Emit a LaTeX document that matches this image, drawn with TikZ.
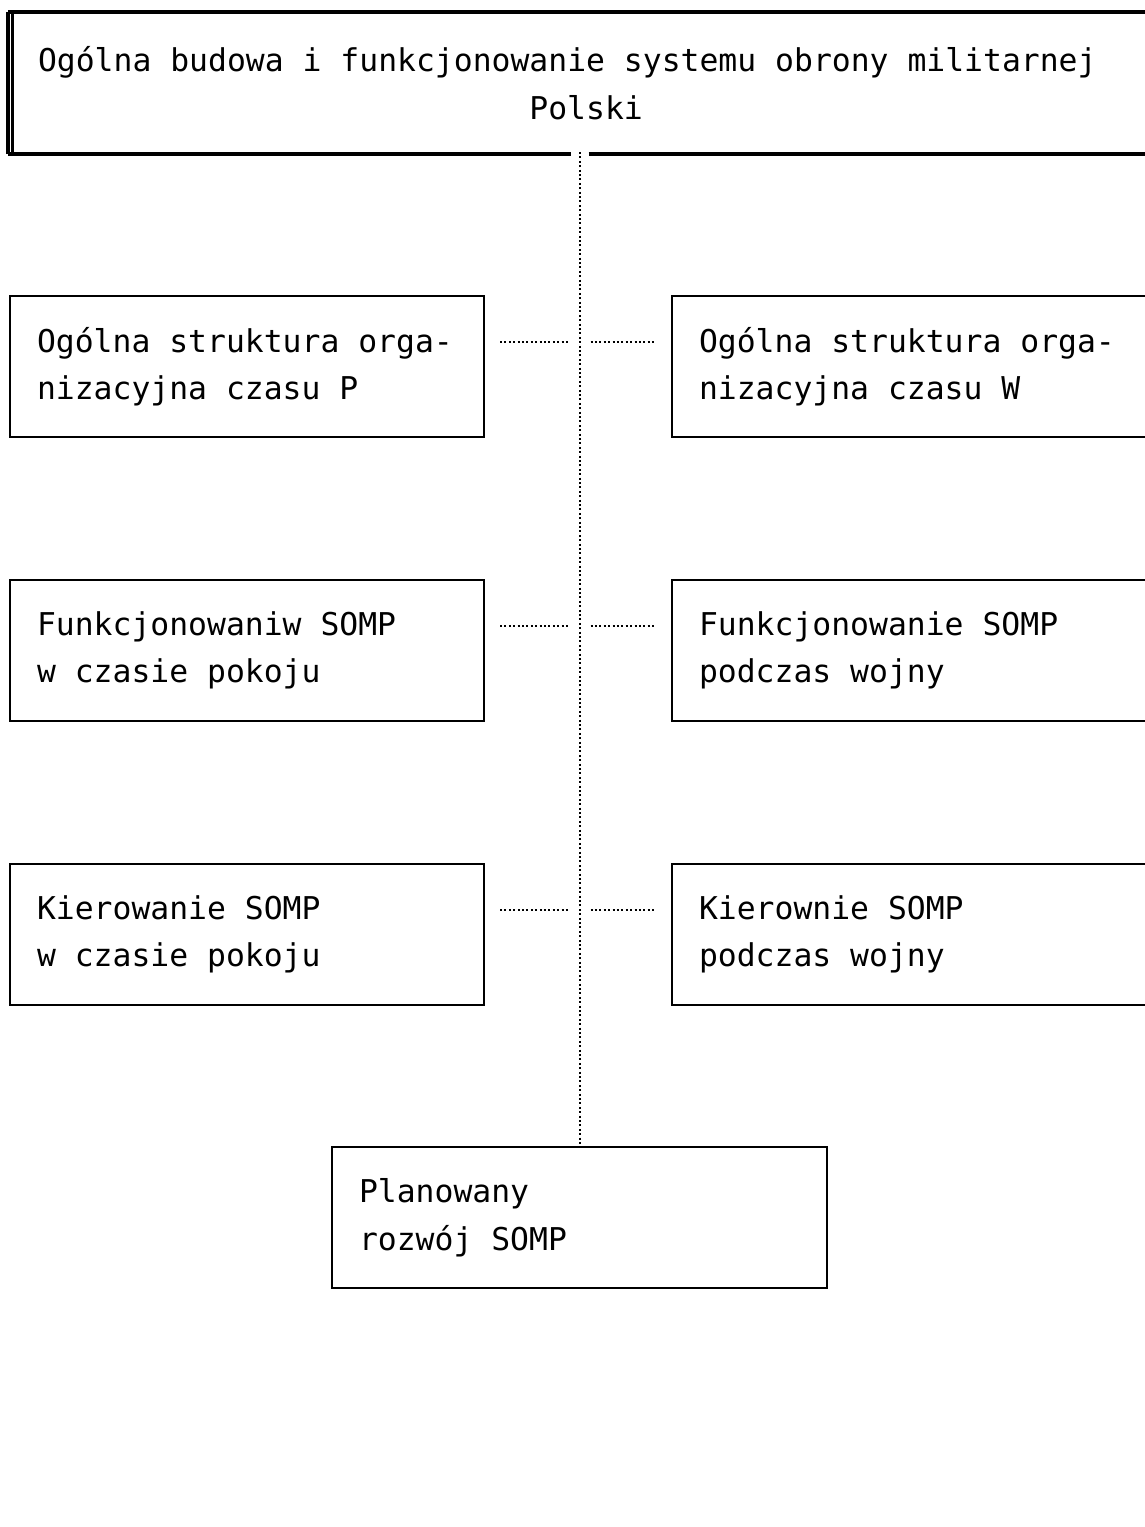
\documentclass[tikz,border=0pt]{standalone}
\usepackage{fontspec}
\usepackage{tikz}
\usetikzlibrary{calc, positioning}
\newfontfamily\maszyna{DejaVu Sans Mono}
\newcommand{\pismo}{\maszyna\fontsize{31.4pt}{47.5pt}\selectfont
    \fontdimen2\font=0.602em\fontdimen3\font=0pt\fontdimen4\font=0pt\relax}
\tikzset{
    ramka/.style={draw, line width=2.3pt, anchor=north west, outer sep=0pt,
        minimum height=141pt, text width=420pt, inner xsep=27pt, inner ysep=0pt,
        align=flush left, font=\pismo},
    gruba/.style={line width=3.2pt},
    kropki/.style={line width=2pt, dash pattern=on 2pt off 2.4pt},
}

\begin{document}
\begin{tikzpicture}[x=1pt, y=-1pt]
    \useasboundingbox (0,0) rectangle (1144,1527);

    % 1. Nagłówek
    \node[anchor=north west, outer sep=0pt, inner xsep=30pt, inner ysep=0pt,
        minimum width=1160pt, minimum height=142pt, text width=1100pt,
        align=flush left, font=\pismo] (top) at (8,12)
        {Ogólna budowa i funkcjonowanie systemu obrony militarnej\\
         \hspace*{15.65em}Polski};

    % 2. Bloki czasu P i czasu W
    \node[ramka] (orgP) at (10,296) {Ogólna struktura orga-\\nizacyjna czasu P};
    \node[ramka] (orgW) at (672,296) {Ogólna struktura orga-\\nizacyjna czasu W};
    \node[ramka] (funP) at (10,580) {Funkcjonowaniw SOMP\\w czasie pokoju};
    \node[ramka] (funW) at (672,580) {Funkcjonowanie SOMP\\podczas wojny};
    \node[ramka] (kieP) at (10,864) {Kierowanie SOMP\\w czasie pokoju};
    \node[ramka] (kieW) at (672,864) {Kierownie SOMP\\podczas wojny};
    \node[ramka, text width=441pt] (plan) at (332,1147) {Planowany\\rozwój SOMP};

    % 3. Ramka nagłówka
    \coordinate (spineT) at (top.south -| plan.north);
    \draw[gruba] (top.north west) -- (top.north east);
    \draw[gruba] (top.north west) -- (top.south west);
    \draw[gruba] ([xshift=4.5pt]top.north west) -- ([xshift=4.5pt]top.south west);
    \draw[gruba] (top.south west) -- ([xshift=-9pt]spineT);
    \draw[gruba] ([xshift=9pt]spineT) -- (top.south east);

    % 4. Linie kropkowane
    \draw[kropki] ([yshift=2pt]spineT) -- (plan.north);
    \foreach \l/\r in {orgP/orgW, funP/funW, kieP/kieW} {
        \coordinate (\l a) at ([yshift=-46pt]\l.north east);
        \coordinate (\l j) at (\l a -| plan.north);
        \draw[kropki, shorten <=16pt, shorten >=11pt] (\l a) -- (\l j);
        \draw[kropki, shorten <=11pt, shorten >=17pt] (\l j) -- ([yshift=-46pt]\r.north west);
    }
\end{tikzpicture}
\end{document}
